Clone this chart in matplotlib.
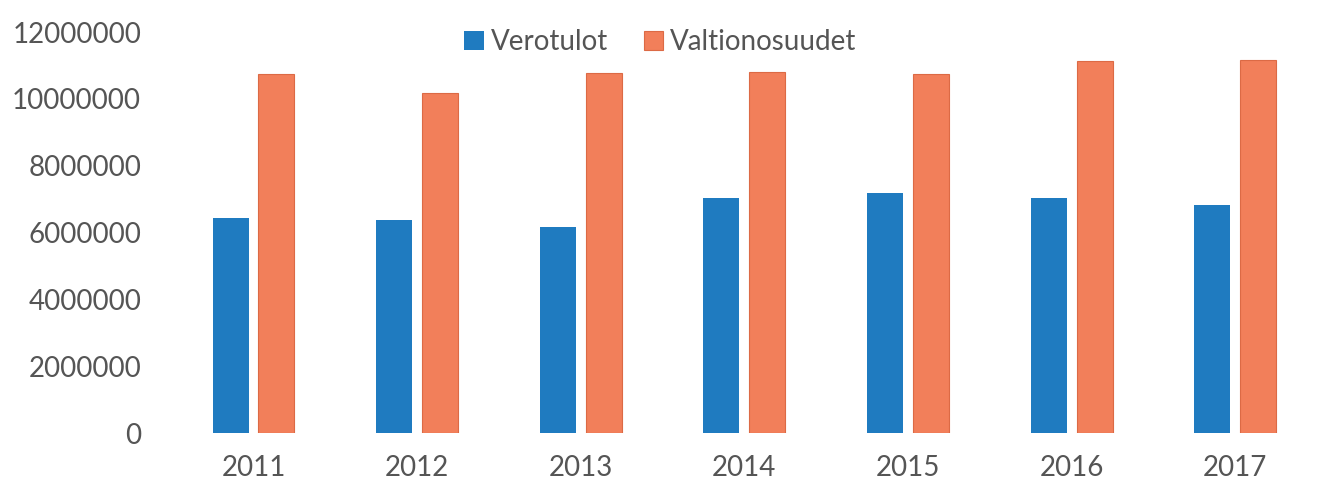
import numpy as np
import matplotlib.pyplot as plt

plt.rcParams['font.family'] = ['Lato', 'DejaVu Sans']

vuodet = ['2011', '2012', '2013', '2014', '2015', '2016', '2017']
verotulot = [6440000, 6380000, 6170000, 7040000, 7190000, 7040000, 6830000]
valtionosuudet = [10750000, 10180000, 10780000, 10810000, 10750000, 11140000, 11170000]

sininen = '#1f7bc0'
oranssi = '#f27f5a'

fig = plt.figure(figsize=(13.21, 4.98), dpi=100)
ax = fig.add_axes([0.130, 0.1305, 0.867, 0.805])

x = np.arange(len(vuodet))
w = 0.22
ax.bar(x - 0.14, verotulot, w, color=sininen, label='Verotulot')
ax.bar(x + 0.14, valtionosuudet, w, color=oranssi, edgecolor='#dc6a45',
       linewidth=0.8, label='Valtionosuudet')

ax.set_xlim(-0.5, len(vuodet) - 0.5)
ax.set_ylim(0, 12000000)
ax.set_yticks(np.arange(0, 12000001, 2000000))
ax.set_yticklabels([str(v) for v in range(0, 12000001, 2000000)])
ax.set_xticks(x)
ax.set_xticklabels(vuodet)

for s in ax.spines.values():
    s.set_visible(False)
ax.tick_params(length=0, labelsize=20, colors='#555555')
ax.tick_params(axis='y', pad=22)
ax.tick_params(axis='x', pad=16)

fig.legend(loc='center', bbox_to_anchor=(0.5, 0.915), ncol=2, frameon=False,
           fontsize=20, labelcolor='#555555', handlelength=0.7, handleheight=0.7,
           handletextpad=0.25, columnspacing=1.3)

plt.savefig('out.png', dpi=100)
